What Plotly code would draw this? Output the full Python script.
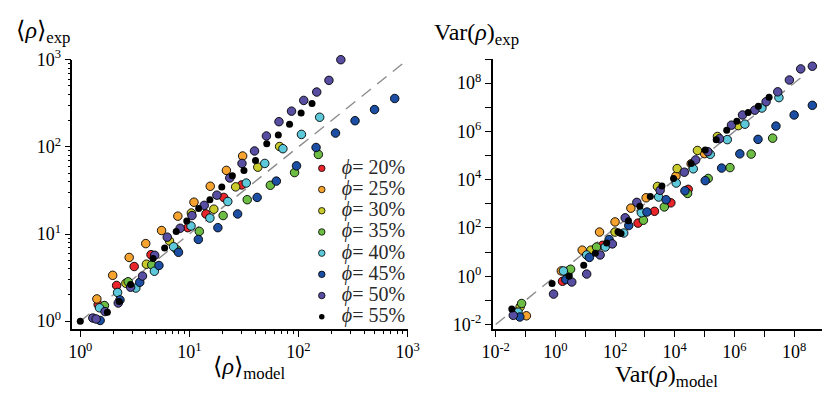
import plotly.graph_objects as go

# Packing fractions and their marker colours
phi_labels = ["20%", "25%", "30%", "35%", "40%", "45%", "50%", "55%"]
phi_colors = ["#e8262b", "#f7a330", "#c9cb2c", "#6dbd45",
              "#5cc8d9", "#1c4fa3", "#574ea2", "#000000"]

# Mean density: log10 of model prediction and of experiment, one list per phi
mean_model_log = [
    [0.164, 0.333, 0.494, 0.648, 0.985, 1.152, 1.315, 1.479],
    [0.152, 0.297, 0.448, 0.600, 0.745, 0.894, 1.042, 1.191, 1.339, 1.488],
    [0.418, 0.606, 0.818, 1.018, 1.224, 1.424, 1.627, 1.827],
    [0.221, 0.439, 0.655, 0.885, 1.091, 1.309, 1.530, 1.742, 1.964, 2.182],
    [0.176, 0.342, 0.509, 0.679, 0.855, 1.015, 1.188, 1.352, 1.521, 1.691,
     1.857, 2.027, 2.194],
    [0.182, 0.364, 0.545, 0.721, 0.900, 1.082, 1.261, 1.442, 1.621, 1.797,
     1.982, 2.161, 2.339, 2.518, 2.697, 2.882],
    [0.115, 0.145, 0.227, 0.348, 0.461, 0.570, 0.682, 0.797, 0.915, 1.024,
     1.136, 1.252, 1.370, 1.482, 1.597, 1.706, 1.821, 1.936, 2.048, 2.167,
     2.279, 2.388],
    [0.000, 0.248, 0.357, 0.461, 0.667, 0.773, 0.879, 0.976, 1.085, 1.188,
     1.297, 1.394, 1.500, 1.606, 1.709, 1.815, 1.918, 2.024, 2.124],
]
mean_exp_log = [
    [0.190, 0.410, 0.627, 0.763, 1.073, 1.230, 1.420, 1.563],
    [0.255, 0.526, 0.731, 0.890, 1.040, 1.205, 1.365, 1.548, 1.730, 1.895],
    [0.435, 0.654, 0.920, 1.241, 1.285, 1.541, 1.767, 2.004],
    [0.179, 0.452, 0.646, 0.820, 1.030, 1.212, 1.394, 1.559, 1.705, 1.913],
    [0.153, 0.329, 0.380, 0.573, 0.854, 1.092, 1.183, 1.373, 1.585, 1.810,
     1.979, 2.143, 2.340],
    [0.008, 0.244, 0.446, 0.639, 0.790, 0.938, 1.073, 1.230, 1.420, 1.607,
     1.782, 1.993, 2.158, 2.300, 2.428, 2.555],
    [0.036, 0.025, 0.110, 0.208, 0.390, 0.518, 0.756, 0.964, 1.066, 1.212,
     1.329, 1.446, 1.643, 1.810, 1.953, 2.125, 2.289, 2.410, 2.533, 2.629,
     2.763, 3.000],
    [0.000, 0.102, 0.227, 0.420, 0.720, 0.840, 1.030, 1.150, 1.292, 1.394,
     1.540, 1.670, 1.730, 1.843, 2.037, 2.136, 2.260, 2.388, 2.497],
]

# Density variance: log10 of model prediction and of experiment
var_model_log = [
    [0.24, 1.58, 2.77, 3.32, 3.87, 4.45],
    [-0.97, 0.20, 0.90, 1.48, 2.00, 2.53, 3.04, 4.04, 4.55, 5.00],
    [-1.18, 0.42, 1.19, 2.00, 3.42, 4.08, 4.76, 5.43, 6.13],
    [-1.13, 0.51, 1.38, 2.95, 3.65, 4.43, 5.12, 5.85, 6.56, 7.28],
    [-1.25, 0.27, 1.05, 1.67, 2.29, 2.88, 3.46, 4.05, 4.62, 5.19, 5.76,
     6.35, 6.92, 7.49],
    [-1.19, 0.35, 1.14, 1.80, 2.46, 3.07, 3.71, 4.34, 5.02, 5.57, 6.18,
     6.79, 7.39, 8.00, 8.61],
    [-1.41, -0.06, 0.55, 1.05, 1.50, 1.91, 2.34, 2.73, 3.51, 4.32, 4.70,
     5.11, 5.50, 5.90, 6.27, 6.68, 7.06, 7.45, 7.84, 8.22, 8.61],
    [-1.46, -0.11, 0.46, 0.95, 1.34, 1.72, 2.10, 2.20, 2.45, 2.83, 3.18,
     3.57, 3.96, 4.55, 5.02, 5.39, 5.74, 6.08, 6.46, 6.80, 7.16],
]
var_exp_log = [
    [-0.21, 1.28, 2.20, 2.69, 3.04, 3.60],
    [-1.64, 0.22, 1.08, 1.83, 2.25, 2.82, 3.25, 4.15, 4.66, 5.08],
    [-1.27, 0.05, 1.08, 1.83, 3.72, 4.46, 5.21, 5.79, 6.24],
    [-1.13, 0.29, 1.21, 2.32, 2.87, 3.43, 4.05, 4.50, 5.06, 5.72],
    [-1.49, 0.22, 0.88, 1.21, 1.79, 2.63, 3.28, 3.86, 4.45, 5.05, 5.66,
     6.30, 6.97, 7.40],
    [-1.69, -0.14, 0.78, 1.52, 2.10, 2.66, 3.17, 3.54, 3.96, 4.48, 5.07,
     5.67, 6.22, 6.68, 7.08],
    [-1.62, -0.74, -0.24, 0.09, 0.88, 1.34, 2.42, 3.06, 3.56, 4.31, 4.82,
     5.16, 5.70, 6.26, 6.68, 6.88, 7.23, 7.64, 8.13, 8.59, 8.70],
    [-1.36, -0.30, 0.00, 0.45, 0.95, 1.38, 1.84, 1.77, 2.30, 2.90, 3.30,
     3.74, 4.05, 4.67, 5.23, 5.65, 6.05, 6.42, 6.78, 7.04, 7.42],
]

# Extent of the y = x reference lines
diag_left = [1.0, 1000.0]
diag_right = [1e-2, 2.5e8]

# Tick positions and labels
left_ticks = [1, 10, 100, 1000]
left_ticktext = ["10<sup>0</sup>", "10<sup>1</sup>", "10<sup>2</sup>", "10<sup>3</sup>"]
left_minor = [m * 10 ** k for k in range(0, 3) for m in range(2, 10)]
right_x_exps = list(range(-2, 9))
right_y_exps = list(range(-2, 10))

FONT = "Liberation Serif, DejaVu Serif, serif"
PW, PH = 822, 394  # drawing size in pixels, used for paper placement


def px(x):
    return x / PW


def py(y):
    return 1 - y / PH


def pow10(vals):
    return [10 ** v for v in vals]


def decade_labels(exps):
    return [f"10<sup>{e}</sup>" if e % 2 == 0 else "" for e in exps]


fig = go.Figure()

dash_line = dict(color="#8c8c8c", width=1.4, dash="12px,8px")
fig.add_trace(go.Scatter(x=diag_left, y=diag_left, mode="lines", line=dash_line,
                         showlegend=False, hoverinfo="skip", xaxis="x", yaxis="y"))
fig.add_trace(go.Scatter(x=diag_right, y=diag_right, mode="lines", line=dash_line,
                         showlegend=False, hoverinfo="skip", xaxis="x2", yaxis="y2"))

for i, (lab, col) in enumerate(zip(phi_labels, phi_colors)):
    is_black = col == "#000000"
    outline = dict(color="black", width=0 if is_black else 0.9)
    marker = dict(color=col, size=7 if is_black else 8.5, line=outline)
    name = f'<span style="font-size:20px"><i>ϕ</i>= {lab}</span>'
    fig.add_trace(go.Scatter(
        x=pow10(mean_model_log[i]), y=pow10(mean_exp_log[i]), mode="markers",
        marker=marker, showlegend=False, legendgroup=lab, cliponaxis=False,
        xaxis="x", yaxis="y"))
    fig.add_trace(go.Scatter(
        x=pow10(var_model_log[i]), y=pow10(var_exp_log[i]), mode="markers",
        marker=marker, showlegend=False, legendgroup=lab, cliponaxis=False,
        xaxis="x2", yaxis="y2"))
    # legend key with a smaller dot
    fig.add_trace(go.Scatter(
        x=[None], y=[None], mode="markers", name=name, legendgroup=lab,
        marker=dict(color=col, size=5.5 if is_black else 6.5,
                    line=dict(color="black", width=0 if is_black else 0.8)),
        showlegend=True, xaxis="x", yaxis="y"))

axis_common = dict(
    type="log", showgrid=False, zeroline=False, showline=True,
    linecolor="black", linewidth=1.5, ticks="outside", ticklen=6,
    tickwidth=1.3, tickcolor="black", tickmode="array",
    tickfont=dict(family=FONT, size=18, color="black"),
)
minor_left = dict(tickvals=left_minor, ticks="outside", ticklen=3,
                  tickwidth=1, tickcolor="black")

fig.update_layout(
    width=836, height=394,
    margin=dict(l=0, r=0, t=0, b=0),
    paper_bgcolor="white", plot_bgcolor="white",
    font=dict(family=FONT, color="black"),
    showlegend=True,
    legend=dict(x=px(294), xanchor="left", y=py(147.5), yanchor="top",
                bgcolor="rgba(0,0,0,0)", borderwidth=0, tracegroupgap=0,
                itemwidth=30, itemclick=False, itemdoubleclick=False,
                font=dict(family=FONT, size=14, color="#2a2a2a")),
    xaxis=dict(axis_common, domain=[px(62), px(401)], range=[-0.073, 3.0],
               anchor="y", tickvals=left_ticks, ticktext=left_ticktext,
               minor=minor_left),
    yaxis=dict(axis_common, domain=[py(332), py(50)], range=[-0.088, 3.0],
               anchor="x", tickvals=left_ticks, ticktext=left_ticktext,
               minor=minor_left),
    xaxis2=dict(axis_common, domain=[px(487), 1.0], range=[-2.1, 9.0],
                anchor="y2", tickvals=pow10(right_x_exps),
                ticktext=decade_labels(right_x_exps)),
    yaxis2=dict(axis_common, domain=[py(332), py(49)], range=[-2.18, 9.01],
                anchor="x2", tickvals=pow10(right_y_exps),
                ticktext=decade_labels(right_y_exps)),
)

# Axis titles
title_font = dict(family=FONT, size=24, color="black")
titles = [
    ("⟨<i>ρ</i>⟩<sub>exp</sub>", 3, 21, "left"),
    ("⟨<i>ρ</i>⟩<sub>model</sub>", 241, 373, "center"),
    ("Var(<i>ρ</i>)<sub>exp</sub>", 426, 23, "left"),
    ("Var(<i>ρ</i>)<sub>model</sub>", 663, 381, "center"),
]
for text, x, y, anchor in titles:
    fig.add_annotation(text=text, x=px(x), y=py(y), xref="paper", yref="paper",
                       xanchor=anchor, yanchor="middle", showarrow=False,
                       font=title_font)

fig.write_html("out.html")
